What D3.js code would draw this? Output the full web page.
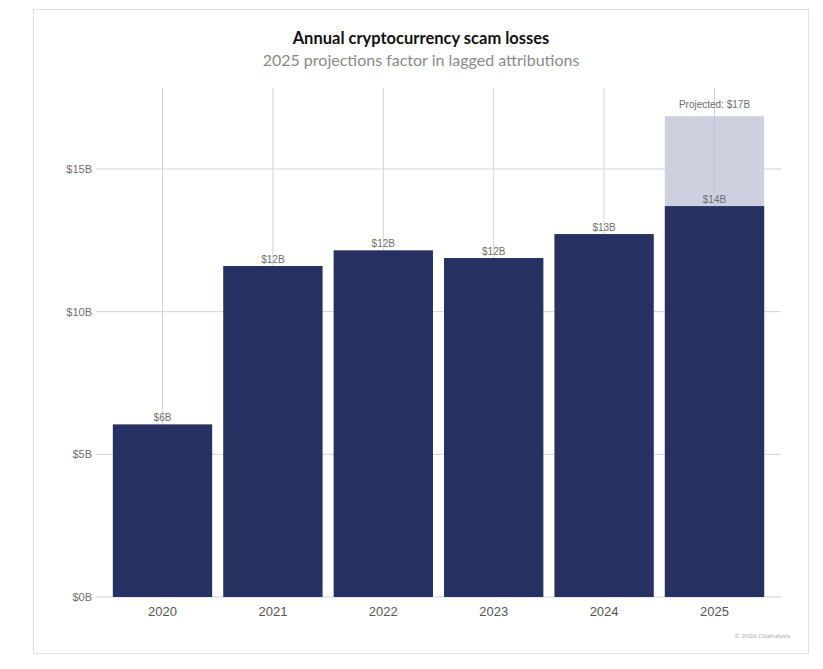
<!DOCTYPE html>
<html>
<head>
<meta charset="utf-8">
<script src="https://cdn.jsdelivr.net/npm/d3@7"></script>
<style>
  body { margin: 0; background: #fff; }
</style>
</head>
<body>
<div id="chart"></div>
<script>
// values in billions of USD
const years = ["2020", "2021", "2022", "2023", "2024", "2025"]
const losses = [6.05, 11.6, 12.15, 11.88, 12.72, 13.7]
const lossLabels = ["$6B", "$12B", "$12B", "$12B", "$13B", "$14B"]
const projectedYear = "2025"
const projected = 16.85
const projectedLabel = "Projected: $17B"
const yTicks = [0, 5, 10, 15]

const W = 823, H = 669
const svg = d3.select("#chart").append("svg")
  .attr("width", W).attr("height", H)

// card border
svg.append("rect")
  .attr("x", 33.5).attr("y", 9.5)
  .attr("width", 775).attr("height", 644)
  .attr("fill", "#fff").attr("stroke", "#e3e3e3")

const x = d3.scaleBand().domain(years).range([107.3, 769.7])
  .paddingInner(0.1).paddingOuter(0.05)
const y = d3.scaleLinear().domain([0, 15]).range([597, 169])

// horizontal grid
svg.selectAll(".hgrid").data(yTicks).enter().append("line")
  .attr("x1", 96).attr("x2", 781)
  .attr("y1", d => y(d)).attr("y2", d => y(d))
  .attr("stroke", "#d4d4d4").attr("stroke-width", 1)

// vertical grid
svg.selectAll(".vgrid").data(years).enter().append("line")
  .attr("x1", d => x(d) + x.bandwidth() / 2).attr("x2", d => x(d) + x.bandwidth() / 2)
  .attr("y1", 88).attr("y2", y(0))
  .attr("stroke", "#d4d4d4").attr("stroke-width", 1)

// projected bar behind
svg.append("rect")
  .attr("x", x(projectedYear)).attr("width", x.bandwidth())
  .attr("y", y(projected)).attr("height", y(0) - y(projected))
  .attr("fill", "#cdd0df")

svg.append("line")
  .attr("x1", x(projectedYear) + x.bandwidth() / 2).attr("x2", x(projectedYear) + x.bandwidth() / 2)
  .attr("y1", y(projected)).attr("y2", y(losses[5]))
  .attr("stroke", "#c4c6d2")

// main bars
svg.selectAll(".bar").data(years).enter().append("rect")
  .attr("x", d => x(d)).attr("width", x.bandwidth())
  .attr("y", (d, i) => y(losses[i]))
  .attr("height", (d, i) => y(0) - y(losses[i]))
  .attr("fill", "#263161")

// value labels
svg.selectAll(".lbl").data(years).enter().append("text")
  .attr("x", d => x(d) + x.bandwidth() / 2)
  .attr("y", (d, i) => y(losses[i]) - 3)
  .attr("text-anchor", "middle")
  .attr("font-family", "Liberation Sans, Arial, sans-serif")
  .attr("font-size", 10).attr("fill", "#6e6e6e")
  .text((d, i) => lossLabels[i])

svg.append("text")
  .attr("x", x(projectedYear) + x.bandwidth() / 2)
  .attr("y", y(projected) - 8)
  .attr("text-anchor", "middle")
  .attr("font-family", "Liberation Sans, Arial, sans-serif")
  .attr("font-size", 10).attr("fill", "#6e6e6e")
  .text(projectedLabel)

// y axis labels
svg.selectAll(".ytick").data(yTicks).enter().append("text")
  .attr("x", 92).attr("y", d => y(d) + 4)
  .attr("text-anchor", "end")
  .attr("font-family", "Liberation Sans, Arial, sans-serif")
  .attr("font-size", 11).attr("fill", "#6e6e6e")
  .text(d => "$" + d + "B")

// x axis labels
svg.selectAll(".xtick").data(years).enter().append("text")
  .attr("x", d => x(d) + x.bandwidth() / 2).attr("y", 616)
  .attr("text-anchor", "middle")
  .attr("font-family", "Liberation Sans, Arial, sans-serif")
  .attr("font-size", 13).attr("fill", "#555")
  .text(d => d)

// titles
svg.append("text")
  .attr("x", 421).attr("y", 44)
  .attr("text-anchor", "middle")
  .attr("font-family", "Lato, Inter, sans-serif")
  .attr("font-weight", "bold").attr("font-size", 16.5).attr("fill", "#111")
  .text("Annual cryptocurrency scam losses")

svg.append("text")
  .attr("x", 421).attr("y", 66)
  .attr("text-anchor", "middle")
  .attr("font-family", "Lato, Inter, sans-serif")
  .attr("font-size", 16).attr("fill", "#8a8a8a")
  .text("2025 projections factor in lagged attributions")

svg.append("text")
  .attr("x", 790).attr("y", 638)
  .attr("text-anchor", "end")
  .attr("font-family", "Lato, Inter, sans-serif")
  .attr("font-size", 6.5).attr("fill", "#aaa")
  .text("© 2026 Chainalysis")
</script>
</body>
</html>
